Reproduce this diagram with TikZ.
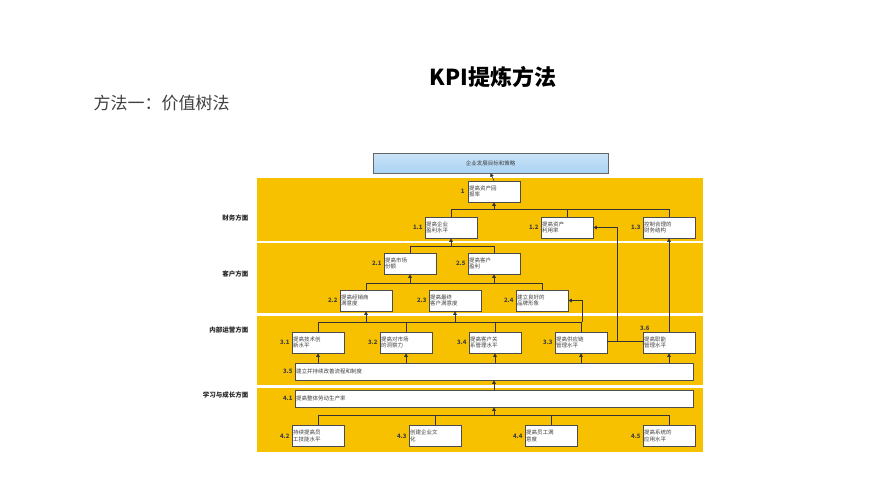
\documentclass[tikz,border=0pt]{standalone}
\usepackage{fontspec}
\setmainfont{Noto Sans CJK SC}
\usetikzlibrary{positioning, arrows.meta}
\definecolor{bandYellow}{HTML}{F7C100}
\definecolor{topBlue}{HTML}{A9D2F2}
\tikzstyle{band} = [fill=bandYellow, draw=none]
\tikzstyle{kbox} = [draw=black!70, fill=white, line width=0.6pt, inner sep=1pt, align=left,
   text width=50pt, minimum height=21pt, font=\fontsize{5.5}{6.5}\selectfont, text=black!75]
\tikzstyle{wbox} = [kbox, text width=396pt, minimum height=17pt]
\tikzstyle{num} = [font=\bfseries\fontsize{6}{7}\selectfont, text=black!75, inner sep=1pt]
\tikzstyle{side} = [font=\bfseries\fontsize{6.5}{7}\selectfont, text=black!85, anchor=east]
\tikzstyle{link} = [line width=0.6pt, black!80]
\tikzstyle{up} = [link, -{Triangle[length=3.5pt,width=3.5pt]}]
\begin{document}
\begin{tikzpicture}[x=1pt, y=-1pt]
  \useasboundingbox (0,0) rectangle (890,500);
  \node[font=\bfseries\fontsize{22}{24}\selectfont] (title) at (493,77) {KPI提炼方法};
  \node[font=\fontsize{17}{19}\selectfont, text=black!75, anchor=west] (sub) at (90,103) {方法一：价值树法};

  % bands
  \fill[band] (257,178) rectangle (703,241);
  \fill[band] (257,243) rectangle (703,313);
  \fill[band] (257,316) rectangle (703,385);
  \fill[band] (257,388) rectangle (703,452);
  \node[side] (s1) at (252,218) {财务方面};
  \node[side] (s2) at (252,274) {客户方面};
  \node[side] (s3) at (252,330) {内部运营方面};
  \node[side] (s4) at (252,395) {学习与成长方面};

  \node[draw=black!60, top color=topBlue!60, bottom color=topBlue, minimum width=235pt, minimum height=20pt,
        inner sep=0pt, font=\fontsize{5.5}{6}\selectfont, text=black!75] (goal) at (490.5,163) {企业发展目标和策略};

  % boxes
  \node[kbox] (b1) at (494,191.5) {提高资产回\\报率};
  \node[kbox] (b11) at (451,227.5) {提高企业\\盈利水平};
  \node[kbox] (b12) at (567,227.5) {提高资产\\利用率};
  \node[kbox] (b13) at (669,227.5) {控制合理的\\财务结构};
  \node[kbox] (b21) at (410,263.5) {提高市场\\份额};
  \node[kbox] (b25) at (494,263.5) {提高客户\\盈利};
  \node[kbox] (b22) at (366,300.5) {提高经销商\\满意度};
  \node[kbox] (b23) at (455,300.5) {提高最终\\客户满意度};
  \node[kbox] (b24) at (542,300.5) {建立良好的\\品牌形象};
  \node[kbox] (b31) at (318,342.5) {提高技术创\\新水平};
  \node[kbox] (b32) at (406,342.5) {提高对市场\\的洞察力};
  \node[kbox] (b34) at (495,342.5) {提高客户关\\系管理水平};
  \node[kbox] (b33) at (581,342.5) {提高供应链\\管理水平};
  \node[kbox] (b36) at (669,342.5) {提高职能\\管理水平};
  \node[wbox] (b35) at (494,371.5) {建立并持续改善流程和制度};
  \node[wbox] (b41) at (494,398.5) {提高整体劳动生产率};
  \node[kbox] (b42) at (318,436) {持续提高员\\工技能水平};
  \node[kbox] (b43) at (435,436) {创建企业文\\化};
  \node[kbox] (b44) at (551,436) {提高员工满\\意度};
  \node[kbox] (b45) at (669,436) {提高系统的\\应用水平};

  % numbers
  \node[num, left=2pt of b1] {1};
  \foreach \n/\t in {b11/1.1, b12/1.2, b13/1.3, b21/2.1, b25/2.5, b22/2.2, b23/2.3, b24/2.4,
      b31/3.1, b32/3.2, b34/3.4, b33/3.3, b35/3.5, b41/4.1, b42/4.2, b43/4.3, b44/4.4, b45/4.5}
    \node[num, left=1pt of \n] {\t};
  \node[num, above left=0pt and -8pt of b36] {3.6};

  % connectors
  \draw[up] (b1.north) -- (goal.south);
  \draw[link] (b11.north) |- (b13.north |- 0,209) -- (b13.north);
  \draw[link] (b12.north) -- (b12.north |- 0,209);
  \draw[up] (b1.south |- 0,209) -- (b1.south);
  \draw[link] (b21.north) |- (b25.north |- 0,246) -- (b25.north);
  \draw[up] (b11.south |- 0,246) -- (b11.south);
  \draw[link] (b22.north) |- (b24.north |- 0,283) -- (b24.north);
  \draw[up] (b21.south |- 0,283) -- (b21.south);
  \draw[up] (b25.south |- 0,283) -- (b25.south);
  \draw[link] (b31.north) |- (b33.north |- 0,322) -- (b33.north);
  \draw[link] (b32.north) -- (b32.north |- 0,322);
  \draw[link] (b34.north) -- (b34.north |- 0,322);
  \draw[up] (b22.south |- 0,322) -- (b22.south);
  \draw[up] (b23.south |- 0,322) -- (b23.south);
  \draw[up] (582,322) |- (b24.east);
  \coordinate (j33) at (617,341);
  \draw[link] (b33.east |- j33) -- (b36.west |- j33);
  \draw[up] (j33) |- (b12.east);
  \draw[up] (b36.north) -- (b13.south);
  \foreach \n in {b31, b32, b34, b33, b36}
    \draw[up] (\n.south |- b35.north) -- (\n.south);
  \draw[up] (b41.north) -- (b35.south);
  \draw[link] (b42.north) |- (b45.north |- 0,415) -- (b45.north);
  \draw[link] (b43.north) -- (b43.north |- 0,415);
  \draw[link] (b44.north) -- (b44.north |- 0,415);
  \draw[up] (b41.south |- 0,415) -- (b41.south);
\end{tikzpicture}
\end{document}
